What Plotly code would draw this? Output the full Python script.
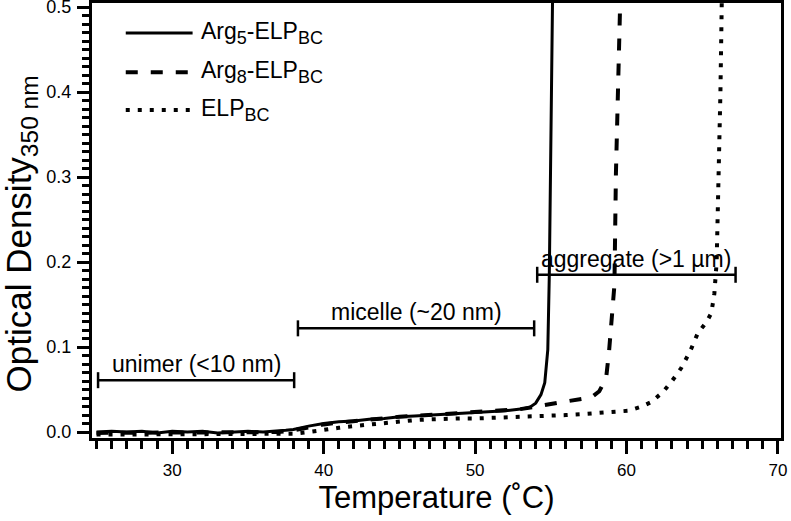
import plotly.graph_objects as go

# Arg5-ELPBC turbidity curve
t_arg5 = [25, 26, 27, 28, 29, 30, 31, 32, 33, 34, 35, 36, 37, 37.5, 38, 38.5, 39, 40,
          41, 42, 43, 44, 45, 46, 47, 48, 49, 50, 51, 52, 53, 53.6, 54.0, 54.35, 54.6,
          54.8, 54.9, 55.0, 55.12]
od_arg5 = [0.000, 0.001, 0.000, 0.001, -0.001, 0.001, 0.000, 0.001, -0.001, 0.000, 0.001,
           0.000, 0.001, 0.002, 0.003, 0.005, 0.007, 0.010, 0.012, 0.013, 0.015, 0.016,
           0.018, 0.019, 0.020, 0.021, 0.022, 0.023, 0.024, 0.025, 0.027, 0.029, 0.034,
           0.044, 0.058, 0.097, 0.185, 0.350, 0.520]

# Arg8-ELPBC turbidity curve
t_arg8 = [25, 26, 27, 28, 29, 30, 31, 32, 33, 34, 35, 36, 37, 38, 38.5, 39, 40, 41, 42,
          43, 44, 45, 46, 47, 48, 49, 50, 51, 52, 53, 54, 55, 56, 56.8, 57.7, 58.2, 58.65,
          58.85, 59.05, 59.2, 59.3, 59.45, 59.6]
od_arg8 = [-0.001, -0.001, 0.000, -0.001, 0.000, -0.001, 0.000, -0.001, 0.000, -0.001,
           0.000, -0.001, 0.000, 0.002, 0.004, 0.006, 0.009, 0.011, 0.013, 0.015, 0.016,
           0.018, 0.019, 0.020, 0.021, 0.022, 0.023, 0.024, 0.025, 0.027, 0.030, 0.033,
           0.036, 0.038, 0.041, 0.048, 0.063, 0.096, 0.140, 0.173, 0.305, 0.420, 0.520]

# ELPBC turbidity curve
t_elp = [25, 27, 29, 31, 33, 35, 37, 38, 39, 40, 41, 42, 43, 44, 45, 46, 47, 48, 49, 50,
         52, 54, 55, 56, 57, 58, 59, 60.1, 61, 61.6, 62.4, 63.0, 63.6, 64.2, 64.7, 65.3,
         65.6, 65.8, 65.95, 66.1, 66.2, 66.3]
od_elp = [-0.003, -0.003, -0.003, -0.003, -0.003, -0.003, -0.003, -0.002, 0.000, 0.003,
          0.005, 0.007, 0.009, 0.011, 0.013, 0.014, 0.015, 0.016, 0.016, 0.016, 0.017,
          0.018, 0.019, 0.020, 0.021, 0.022, 0.023, 0.025, 0.030, 0.035, 0.047, 0.060,
          0.075, 0.095, 0.116, 0.130, 0.140, 0.163, 0.200, 0.300, 0.400, 0.520]

SUB = '<sub><span style="font-size:18px">%s</span></sub>'
series_names = ["Arg" + SUB % "5" + "-ELP" + SUB % "BC",
                "Arg" + SUB % "8" + "-ELP" + SUB % "BC",
                "ELP" + SUB % "BC"]

# size regimes marked with brackets
phase_labels = ["unimer (<10 nm)", "micelle (~20 nm)", "aggregate (>1 µm)"]
phase_start = [25.1, 38.3, 54.1]
phase_end = [38.05, 53.9, 67.2]
phase_level = [0.061, 0.122, 0.185]

FONT = "Liberation Sans, Arial, sans-serif"
styles = [dict(width=3, dash="solid"),
          dict(width=4, dash="12px,13px"),
          dict(width=4, dash="4px,8px")]

fig = go.Figure()
for t, od, st in zip([t_arg5, t_arg8, t_elp], [od_arg5, od_arg8, od_elp], styles):
    fig.add_trace(go.Scatter(x=t, y=od, mode="lines", showlegend=False,
                             line=dict(color="black", width=st["width"], dash=st["dash"])))

shapes = []
annots = []
for lab, x0, x1, lvl in zip(phase_labels, phase_start, phase_end, phase_level):
    shapes.append(dict(type="line", xref="x", yref="y", x0=x0, x1=x1, y0=lvl, y1=lvl,
                       line=dict(color="black", width=2.5)))
    for xc in (x0, x1):
        shapes.append(dict(type="line", xref="x", yref="y", x0=xc, x1=xc,
                           ysizemode="pixel", yanchor=lvl, y0=-8, y1=8,
                           line=dict(color="black", width=2.5)))
    annots.append(dict(x=(x0 + x1) / 2, y=lvl, xref="x", yref="y", text=lab,
                       showarrow=False, yanchor="bottom", yshift=1,
                       font=dict(family=FONT, size=23, color="black")))

# hand-made legend (long line samples like the original)
leg_y = [0.931, 0.841, 0.754]
for name, st, ly in zip(series_names, styles, leg_y):
    shapes.append(dict(type="line", xref="paper", yref="paper", x0=0.049, x1=0.146,
                       y0=ly, y1=ly, line=dict(color="black", width=st["width"], dash=st["dash"])))
    annots.append(dict(x=0.156, y=ly, xref="paper", yref="paper", text=name,
                       showarrow=False, xanchor="left", yanchor="middle",
                       font=dict(family=FONT, size=23, color="black")))

# y title as a rotated annotation so it can sit a bit lower, like the original
annots.append(dict(x=0, y=0.5, xref="paper", yref="paper", xanchor="center",
                   yanchor="middle", xshift=-72, yshift=-14,
                   text="Optical Density<sub>350 nm</sub>", textangle=-90, showarrow=False,
                   font=dict(family=FONT, size=35, color="black")))

fig.update_layout(
    width=791, height=521,
    margin=dict(l=92, r=10, t=3, b=83),
    paper_bgcolor="white", plot_bgcolor="white",
    font=dict(family=FONT, color="black"),
    shapes=shapes, annotations=annots,
)
fig.update_xaxes(
    range=[24.7, 70.2], dtick=10, tick0=0, showgrid=False, zeroline=False,
    showline=True, linecolor="black", linewidth=3, mirror=True, automargin=False,
    ticks="outside", ticklen=13, tickwidth=2.5, tickcolor="black",
    minor=dict(dtick=1, ticks="outside", ticklen=8, tickwidth=2.5, tickcolor="black",
               showgrid=False),
    tickfont=dict(size=17), ticklabelstandoff=2, ticklabeloverflow="allow",
    title=dict(text="Temperature (˚C)", font=dict(size=31), standoff=0),
)
fig.update_yaxes(
    range=[-0.007, 0.5047], dtick=0.1, tick0=0, tickformat=".1f", showgrid=False,
    zeroline=False, showline=True, linecolor="black", linewidth=3, mirror=True,
    automargin=False,
    ticks="outside", ticklen=12, tickwidth=2.5, tickcolor="black",
    minor=dict(dtick=0.01, ticks="outside", ticklen=7, tickwidth=2.5, tickcolor="black",
               showgrid=False),
    tickfont=dict(size=18), ticklabelstandoff=2, ticklabeloverflow="allow",
)

# the page's default body margin would shift the figure by 8 px
fig.write_html("out.html", config={"displayModeBar": False},
               post_script="document.body.style.margin='0';")
